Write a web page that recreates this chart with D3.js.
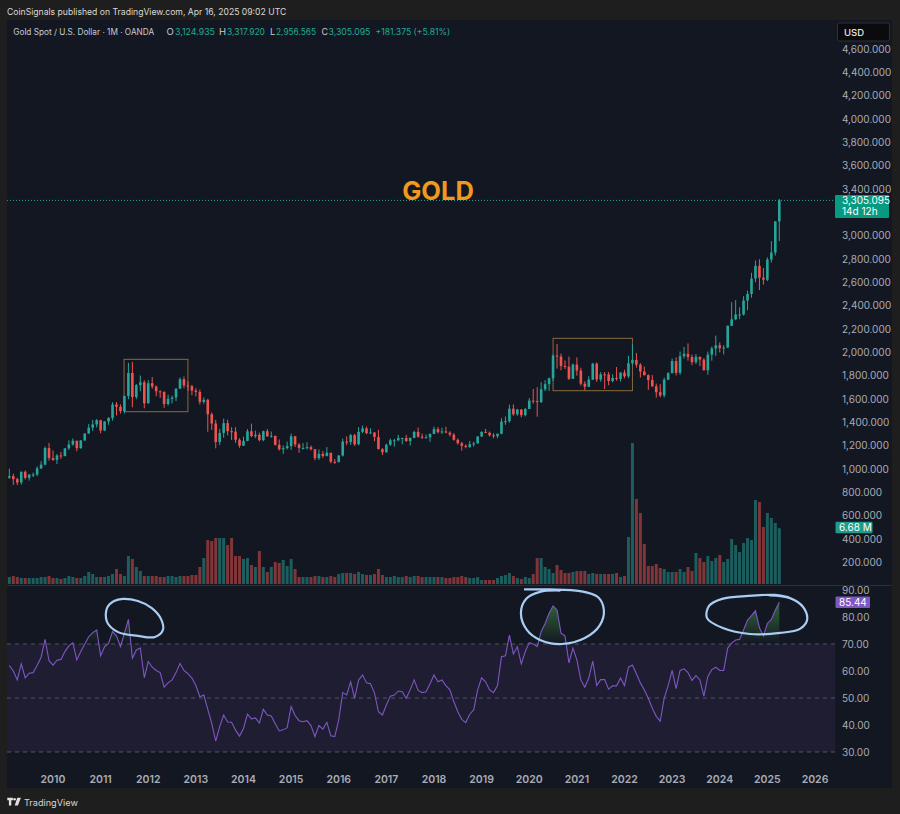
<!DOCTYPE html>
<html><head><meta charset="utf-8">
<script src="https://cdn.jsdelivr.net/npm/d3@7"></script>
<style>
html,body{margin:0;padding:0;background:#1e1e1e;}
svg{display:block;}
text{font-family:Inter,"Noto Sans",Roboto,sans-serif;}
</style></head>
<body><svg id="chart" width="900" height="814"></svg>
<script>
// ---------- DATA (monthly, Feb 2009 - Apr 2025) ----------
const firstMonthOffset = -11; // Feb 2009 relative to Jan 2010
const firstOpen = 928;
const closes = [
942,916,887,979,927,955,955,1008,1040,1182,1097,
1081,1119,1113,1180,1213,1245,1181,1248,1307,1357,1385,1421,
1333,1410,1439,1556,1536,1500,1628,1826,1620,1722,1746,1566,
1738,1710,1669,1664,1560,1604,1615,1692,1772,1719,1713,1675,
1663,1578,1596,1472,1393,1234,1312,1396,1327,1323,1253,1202,
1244,1326,1284,1296,1250,1327,1282,1287,1210,1172,1182,1199,
1283,1213,1183,1183,1190,1172,1095,1133,1115,1142,1065,1061,
1118,1238,1234,1293,1215,1321,1351,1309,1316,1277,1173,1146,
1211,1249,1249,1268,1269,1242,1269,1321,1280,1271,1275,1303,
1345,1318,1325,1315,1298,1253,1224,1201,1192,1215,1222,1282,
1321,1313,1292,1284,1305,1409,1413,1520,1472,1513,1464,1517,
1589,1585,1577,1686,1730,1781,1975,1967,1886,1879,1776,1898,
1847,1734,1708,1769,1906,1770,1814,1813,1757,1783,1775,1829,
1797,1909,1937,1897,1838,1807,1766,1711,1661,1633,1768,1824,
1928,1827,1969,1990,1963,1919,1965,1940,1849,1983,2036,2063,
2039,2044,2230,2286,2327,2327,2447,2503,2635,2744,2643,2625,
2798,2858,3124.935,3305.095];
const highs = [
1006,962,928,982,990,960,972,1025,1070,1195,1227,
1162,1131,1150,1181,1249,1265,1245,1250,1308,1388,1424,1431,
1424,1411,1448,1575,1577,1557,1632,1913,1921,1731,1804,1763,
1764,1791,1718,1677,1668,1640,1632,1692,1788,1796,1755,1724,
1695,1684,1617,1604,1488,1424,1347,1434,1425,1361,1361,1267,
1280,1345,1392,1332,1315,1332,1345,1324,1288,1256,1205,1238,
1307,1287,1224,1224,1232,1205,1175,1170,1157,1191,1142,1088,
1123,1263,1283,1303,1304,1362,1375,1367,1352,1318,1338,1181,
1220,1264,1261,1296,1270,1296,1274,1331,1358,1306,1299,1308,
1366,1362,1356,1365,1326,1309,1265,1235,1214,1243,1237,1284,
1326,1347,1324,1310,1306,1439,1453,1555,1557,1518,1516,1525,
1611,1689,1704,1747,1765,1786,1984,2075,1992,1933,1966,1907,
1959,1871,1755,1798,1913,1916,1833,1834,1834,1814,1877,1831,
1853,1974,2070,1998,1910,1880,1814,1808,1735,1730,1786,1833,
1949,1959,2010,2049,2079,1984,1988,1966,1953,2009,2052,2146,
2088,2065,2233,2432,2450,2388,2484,2531,2685,2790,2801,2726,
2817,2956,3128,3317.92];
const lows = [
918,866,866,869,913,904,934,942,1003,1034,1075,
1072,1045,1089,1113,1166,1202,1155,1177,1242,1306,1330,1360,
1309,1327,1381,1417,1462,1478,1480,1601,1532,1602,1669,1523,
1563,1690,1627,1613,1527,1547,1565,1586,1690,1695,1673,1635,
1626,1555,1562,1322,1338,1180,1207,1271,1292,1251,1227,1185,
1202,1240,1277,1268,1240,1240,1281,1272,1204,1161,1132,1170,
1167,1191,1142,1170,1170,1162,1077,1080,1098,1110,1052,1046,
1061,1110,1208,1209,1200,1207,1310,1301,1302,1241,1171,1122,
1144,1200,1195,1241,1214,1236,1204,1267,1271,1261,1264,1237,
1302,1308,1303,1310,1282,1246,1211,1160,1180,1183,1196,1221,
1276,1310,1281,1266,1266,1301,1382,1400,1459,1459,1445,1454,
1517,1563,1451,1568,1670,1671,1757,1863,1849,1860,1765,1775,
1803,1717,1677,1706,1766,1750,1751,1688,1721,1746,1759,1753,
1780,1782,1890,1872,1787,1805,1681,1709,1615,1618,1616,1765,
1823,1805,1810,1950,1932,1893,1903,1885,1847,1810,1931,1973,
2002,1985,2039,2228,2278,2287,2319,2364,2471,2604,2537,2583,
2614,2772,2833,2956.565];
// volume in millions
const volumes = [
0.84,0.96,0.84,0.72,0.72,0.72,0.72,0.72,0.84,0.84,0.96,
0.72,0.72,0.60,0.72,0.96,0.84,0.72,0.72,0.96,1.44,1.20,0.84,
0.84,0.84,0.96,1.20,1.80,1.20,0.96,3.35,3.00,2.04,1.56,0.96,
0.96,0.96,0.96,0.84,0.84,0.96,0.96,0.84,0.96,0.96,0.96,1.08,
1.08,2.04,3.11,5.27,5.15,5.51,5.51,5.51,4.67,5.51,3.35,3.35,
3.00,3.11,2.28,2.04,3.95,2.04,1.44,2.04,2.64,2.52,2.88,2.16,
3.00,1.80,0.84,0.84,0.84,0.84,0.96,0.96,0.84,0.84,0.96,0.84,
1.20,1.32,1.32,1.32,1.20,1.44,1.20,1.08,1.08,1.20,1.80,1.08,
0.84,0.84,0.96,0.84,0.84,0.96,0.84,0.96,0.96,0.84,0.84,0.84,
0.84,0.84,0.84,0.72,0.72,0.84,0.84,0.96,0.84,0.72,0.72,0.84,
0.48,0.48,0.48,0.48,0.72,0.96,1.08,1.32,0.96,0.72,0.60,0.84,
0.72,1.20,3.11,3.11,2.04,1.80,1.32,2.28,1.68,1.32,1.32,1.44,
1.56,1.56,1.56,1.20,1.32,1.20,1.20,1.20,1.20,1.20,1.32,0.84,
0.96,5.63,16.89,10.18,8.51,4.79,2.16,2.16,2.40,1.92,1.80,1.44,
1.44,1.44,1.80,1.44,2.04,1.56,3.71,3.11,2.64,3.35,2.76,3.11,
3.47,2.64,3.00,5.39,4.67,3.83,4.91,5.51,5.27,10.06,9.82,6.83,
8.51,7.91,7.31,6.68];
const rsi = [
62,60,56.7,62.6,57.5,59.2,59.4,62,65.1,71.7,63.8,
62.2,64,64.3,67.2,69.3,70.5,64.1,67.2,70,72.7,74.2,75.2,
65.6,69,70.2,74.6,73,69,74,79.1,64.7,67.8,68.5,57.5,
63.5,61.4,60.2,59.4,54,55.6,56.7,59.4,62.8,60.2,59,57.4,
54.6,50.5,51.1,45.8,40.6,34,39.4,43.7,41.1,41,38.1,35.9,
38.7,44,42.3,42.6,40.7,45.8,43.7,43.3,40.5,37.8,38.2,39,
46.8,43.5,41.6,41.2,41.6,39.8,35.7,39.8,38.5,41,36,35.7,
42,52,51.1,56,49.9,56.7,58.5,55.6,55.3,51.9,44.9,43.7,
47.4,50.7,51.1,52.6,52.3,49.9,53,56.7,52.8,52,52.3,55.3,
58.5,56,56.7,54.6,53,48.6,44.9,42.1,40.9,44,45.6,53,
57.5,56,53,52,54.6,65.3,65.6,73.3,66.3,69,62.6,67.2,
70.5,70,69,74.6,77.6,81.4,84.1,82.6,74,73,63,68.5,
64.1,56.7,54,57.4,63.7,54.6,56.8,56.8,53.3,54.5,54.5,57.4,
54.6,61.4,62.2,59,55.6,53,49.9,46.2,43.2,41.4,49.9,54.6,
60.2,53.5,60.2,60.8,59.4,56.5,58.3,56.7,50.7,58,60.5,61.4,
60.2,60.2,68.5,70.3,71.5,71.7,75.2,78.9,80.5,82.3,76,73,
77.6,79.1,82.5,85.44];
const years = [2010,2011,2012,2013,2014,2015,2016,2017,2018,2019,2020,2021,2022,2023,2024,2025,2026];
// 3,200 is hidden behind the last-price label in the reference
const priceTicks = [200,400,600,800,1000,1200,1400,1600,1800,2000,2200,2400,2600,2800,3000,3400,3600,3800,4000,4200,4400,4600];
const rsiTicks = [90,80,70,60,50,40,30];
const rsiLevels = [70,50,30];
// highlighted consolidation boxes: [startMonth, endMonth, topPrice, bottomPrice] (months from Jan 2010)
const boxes = [[17.9,34.0,1943,1494],[126.0,146.0,2123,1674]];
// hand-drawn annotation loops in (month, RSI) space
const ann1 = [[17.6,86.7],[21.4,85.9],[24.9,83.3],[27.2,79.3],[27.7,75.2],[25.7,72.6],[21.4,73.0],[16.4,74.4],[13.6,78.2],[13.6,83.3],[15.4,85.9]];
const ann2 = [[118.9,90.2],[125.2,90.2],[132.8,89.6],[137.3,87.4],[138.8,82.6],[137.8,77.0],[134.0,72.2],[128.2,70.0],[122.7,71.5],[119.4,75.2],[117.9,81.5],[119.2,86.7],[122.7,89.3],[127.7,89.8]];
const ann3 = [[180.6,88.0],[185.7,87.0],[189.0,83.7],[190.0,78.9],[188.2,75.6],[183.2,74.1],[175.6,73.7],[168.8,75.9],[164.8,79.6],[165.3,84.1],[168.6,86.7],[175.1,87.8],[181.9,88.2],[185.2,87.4]];

const headerText = "CoinSignals published on TradingView.com, Apr 16, 2025 09:02 UTC";
const legendName = "Gold Spot / U.S. Dollar · 1M · OANDA";
const ohlcLegend = [["O","3,124.935"],["H","3,317.920"],["L","2,956.565"],["C","3,305.095"]];
const changeText = "+181.375 (+5.81%)";

// ---------- build candle objects ----------
const opens = [firstOpen].concat(closes.slice(0, -1));
opens[opens.length-1] = 3124.935;
const bars = closes.map((c,i)=>({m:i+firstMonthOffset,o:opens[i],h:highs[i],l:lows[i],c:c,v:volumes[i],r:rsi[i]}));

// ---------- layout ----------
const svg = d3.select("#chart");
const panel = {x0:7, x1:892, y0:20, y1:788};
const plotRight = 833;
const UP="#26a69a", DN="#ef5350";

const x = d3.scaleLinear().domain([0,192]).range([53,815]);
const yP = d3.scaleLinear().domain([0,4600]).range([586,49.33]);
const yV = d3.scaleLinear().domain([0,16.89]).range([584,443]);
const yR = d3.scaleLinear().domain([30,90]).range([752,590]);

svg.append("rect").attr("width",900).attr("height",814).attr("fill","#1e1e1e");
svg.append("rect").attr("x",panel.x0).attr("y",panel.y0).attr("width",panel.x1-panel.x0).attr("height",panel.y1-panel.y0).attr("fill","#131722");

const defs = svg.append("defs");
defs.append("clipPath").attr("id","clipP").append("rect").attr("x",panel.x0).attr("y",panel.y0).attr("width",plotRight-panel.x0).attr("height",585-panel.y0);
defs.append("clipPath").attr("id","clipR").append("rect").attr("x",panel.x0).attr("y",586).attr("width",plotRight-panel.x0+2).attr("height",180);
defs.append("clipPath").attr("id","clipOB").append("rect").attr("x",panel.x0).attr("y",586).attr("width",plotRight-panel.x0).attr("height",yR(70)-586);
const grad = defs.append("linearGradient").attr("id","obGrad").attr("gradientUnits","userSpaceOnUse")
  .attr("x1",0).attr("x2",0).attr("y1",yR(70)).attr("y2",yR(100));
grad.append("stop").attr("offset",0).attr("stop-color","#4caf50").attr("stop-opacity",0);
grad.append("stop").attr("offset",1).attr("stop-color","#4caf50").attr("stop-opacity",1);

// text that is sized to fit a target width (font-size shrinks, no stretching)
function fitText(g, str, x0, y0, width, color, maxSize){
  const t = g.append("text").attr("x",x0).attr("y",y0).attr("fill",color).attr("font-size",maxSize).text(str);
  const w = t.node().getComputedTextLength();
  if (w > width) t.attr("font-size", maxSize*width/w);
  return t;
}

// header
fitText(svg, headerText, 7, 14.5, 280, "#d9d9d9", 10.5);

// legend
const lg = svg.append("g");
fitText(lg, legendName, 13.3, 35, 141, "#c8cad0", 10);
// [letterX, letterWidth, valueX, valueWidth]
const legX = [[166.5,7.5,175,40],[219,7.5,227,38],[270,5.5,276,40],[321.5,6.5,328.5,42]];
ohlcLegend.forEach((d,i)=>{
  const p = legX[i];
  fitText(lg, d[0], p[0], 35, p[1], "#c8cad0", 9.5);
  fitText(lg, d[1], p[2], 35, p[3], "#22ab94", 9.5);
});
fitText(lg, changeText, 375.5, 35, 75, "#22ab94", 9.5);

// ---- price pane ----
const pp = svg.append("g").attr("clip-path","url(#clipP)");
// volume
pp.selectAll("rect.vol").data(bars).join("rect").attr("class","vol")
  .attr("x",d=>x(d.m)-1.5).attr("width",3)
  .attr("y",d=>yV(d.v)).attr("height",d=>yV(0)-yV(d.v))
  .attr("fill",d=>d.c>=d.o?UP:DN).attr("fill-opacity",0.5);
// last price line
pp.append("line").attr("x1",panel.x0).attr("x2",plotRight).attr("y1",yP(3305.095)).attr("y2",yP(3305.095))
  .attr("stroke","#22ab94").attr("stroke-dasharray","1,2").attr("stroke-width",1);
// boxes
pp.selectAll("rect.box").data(boxes).join("rect").attr("class","box")
  .attr("x",d=>x(d[0])).attr("width",d=>x(d[1])-x(d[0]))
  .attr("y",d=>yP(d[2])).attr("height",d=>yP(d[3])-yP(d[2]))
  .attr("fill","none").attr("stroke","#8a6a3e").attr("stroke-width",1);
// wicks
pp.selectAll("line.wick").data(bars).join("line").attr("class","wick")
  .attr("x1",d=>x(d.m)).attr("x2",d=>x(d.m)).attr("y1",d=>yP(d.h)).attr("y2",d=>yP(d.l))
  .attr("stroke",d=>d.c>=d.o?UP:DN).attr("stroke-width",1);
// bodies
pp.selectAll("rect.body").data(bars).join("rect").attr("class","body")
  .attr("x",d=>x(d.m)-1.3).attr("width",2.6)
  .attr("y",d=>yP(Math.max(d.o,d.c)))
  .attr("height",d=>Math.max(1,Math.abs(yP(d.o)-yP(d.c))))
  .attr("fill",d=>d.c>=d.o?UP:DN);
// GOLD title
svg.append("text").attr("x",438).attr("y",199.5).attr("text-anchor","middle")
  .attr("font-family","'Liberation Sans',Arial,sans-serif").attr("font-weight","bold")
  .attr("font-size",25.5).attr("fill","#f0981f").text("GOLD");

// pane separator
svg.append("line").attr("x1",panel.x0).attr("x2",panel.x1).attr("y1",585.5).attr("y2",585.5).attr("stroke","#2a2e39");

// ---- RSI pane ----
const rp = svg.append("g").attr("clip-path","url(#clipR)");
rp.append("rect").attr("x",panel.x0).attr("width",835-panel.x0).attr("y",yR(70)).attr("height",yR(30)-yR(70))
  .attr("fill","rgba(126,87,194,0.1)");
rp.selectAll("line.lvl").data(rsiLevels).join("line").attr("class","lvl")
  .attr("x1",panel.x0).attr("x2",835).attr("y1",d=>yR(d)).attr("y2",d=>yR(d))
  .attr("stroke","#787b86").attr("stroke-opacity",0.6).attr("stroke-dasharray","4,4");
const obArea = d3.area().x(d=>x(d.m)).y0(yR(70)).y1(d=>yR(d.r));
rp.append("path").datum(bars).attr("d",obArea).attr("fill","url(#obGrad)").attr("clip-path","url(#clipOB)");
const rLine = d3.line().x(d=>x(d.m)).y(d=>yR(d.r));
rp.append("path").datum(bars).attr("d",rLine).attr("fill","none").attr("stroke","#7e57c2").attr("stroke-width",1.1);

// annotations
const aLine = d3.line().x(d=>x(d[0])).y(d=>yR(d[1]));
const annG = svg.append("g").attr("fill","none").attr("stroke","#a9cdf3").attr("stroke-width",2.2)
  .attr("stroke-linecap","round").attr("stroke-linejoin","round");
annG.append("path").attr("d",aLine.curve(d3.curveCatmullRomClosed)(ann1));
annG.append("path").attr("d",aLine.curve(d3.curveCatmullRom)(ann2));
annG.append("path").attr("d",aLine.curve(d3.curveCatmullRom)(ann3));

// ---- right axes ----
const ax = svg.append("g").attr("font-size",10).attr("fill","#a9acb5");
ax.selectAll("text.pt").data(priceTicks).join("text").attr("class","pt")
  .attr("x",842).attr("y",d=>yP(d)+3.5).text(d=>d3.format(",.3f")(d));
ax.selectAll("text.rt").data(rsiTicks).join("text").attr("class","rt")
  .attr("x",842).attr("y",d=>yR(d)+3.5).text(d=>d3.format(".2f")(d));

// last price label
const lp = svg.append("g");
lp.append("rect").attr("x",835).attr("y",yP(3305.095)-5.5).attr("width",54).attr("height",23).attr("fill","#089981").attr("rx",1);
lp.append("text").attr("x",842).attr("y",yP(3305.095)+4).attr("font-size",10).attr("fill","#fff").text("3,305.095");
lp.append("text").attr("x",842).attr("y",yP(3305.095)+15).attr("font-size",10).attr("fill","#fff").text("14d 12h");
// volume label
svg.append("rect").attr("x",835.5).attr("y",yV(6.68)-6.5).attr("width",37).attr("height",11.5).attr("fill","#1f9b8a").attr("rx",1);
svg.append("text").attr("x",839).attr("y",yV(6.68)+3).attr("font-size",10).attr("fill","#fff").text("6.68 M");
// RSI label
svg.append("rect").attr("x",835.5).attr("y",yR(85.44)-5.7).attr("width",34.5).attr("height",11.5).attr("fill","#7e57c2").attr("rx",1);
svg.append("text").attr("x",839).attr("y",yR(85.44)+3.7).attr("font-size",10).attr("fill","#fff").text("85.44");
// USD box
svg.append("rect").attr("x",837.5).attr("y",23).attr("width",52).attr("height",18).attr("rx",2).attr("fill","#0b0b0d").attr("stroke","#2e3038");
svg.append("text").attr("x",844).attr("y",35.5).attr("font-size",9.5).attr("font-weight",500).attr("fill","#e6e6e6").text("USD");

// ---- time axis ----
svg.append("g").attr("font-size",10.5).attr("font-weight",600).attr("fill","#a9acb5")
  .selectAll("text").data(years).join("text")
  .attr("x",d=>x((d-2010)*12)).attr("y",782.5).attr("text-anchor","middle").text(d=>d);

// ---- footer logo ----
const logo = svg.append("g").attr("fill","#e0e0e0");
logo.append("path").attr("d","M7.3,797.8h5.6v2.4h-1.6v5.4h-2.4v-5.4h-1.6z");
logo.append("circle").attr("cx",14.6).attr("cy",799.2).attr("r",1.3);
logo.append("path").attr("d","M17.3,797.8h3.6l-3,7.8h-3.2z");
fitText(svg, "TradingView", 24, 805.6, 54, "#d6d6d6", 11);
</script>
</body></html>
